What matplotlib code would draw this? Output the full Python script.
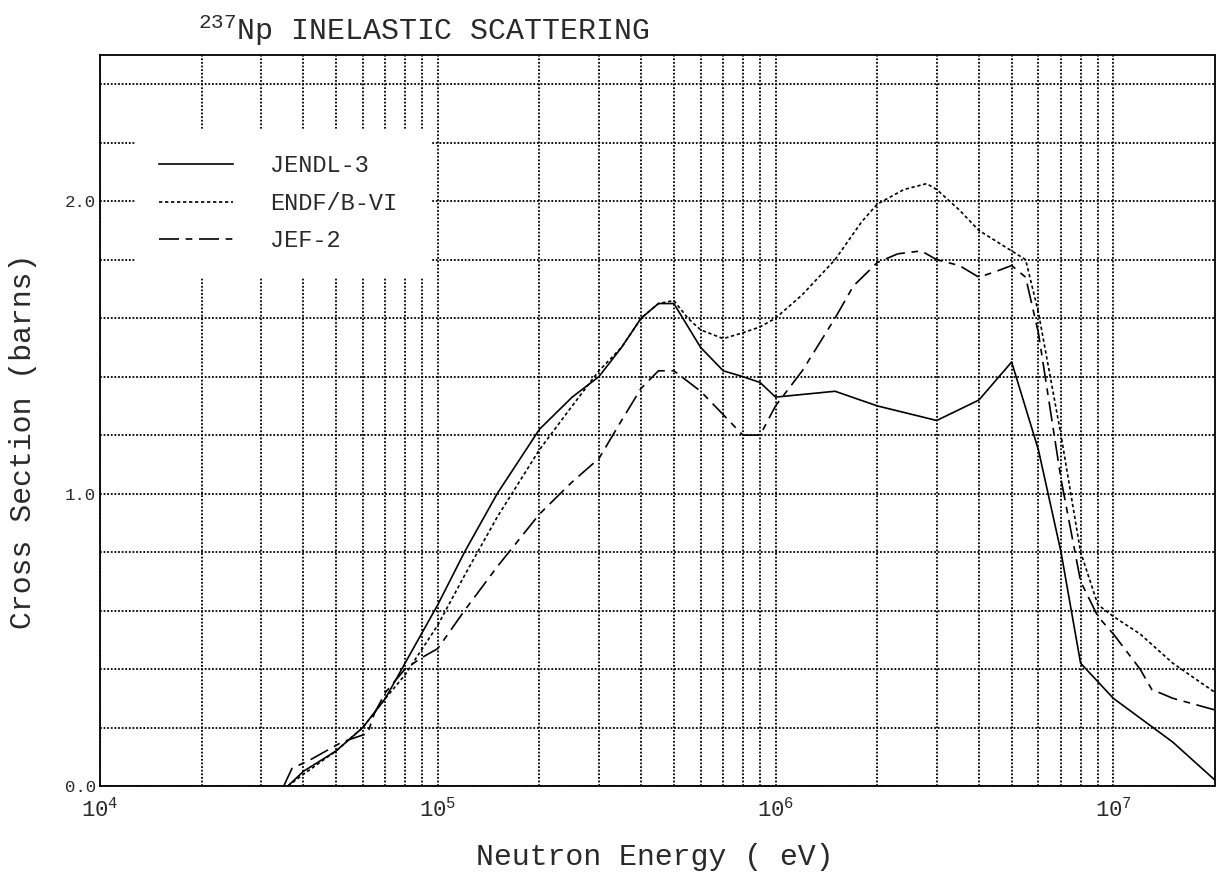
import numpy as np
import matplotlib
matplotlib.use("Agg")
import matplotlib.pyplot as plt

# ---- data ----
jendl_e = [3.6e4, 4e4, 5e4, 6e4, 7e4, 8e4, 1e5, 1.2e5, 1.5e5, 2e5, 2.5e5, 3e5, 3.5e5,
           4e5, 4.5e5, 5e5, 6e5, 7e5, 8e5, 9e5, 1e6, 1.5e6, 2e6, 3e6, 4e6, 5e6,
           6e6, 7e6, 8e6, 1e7, 1.5e7, 2e7]
jendl_v = [0.0, 0.05, 0.12, 0.2, 0.3, 0.42, 0.62, 0.8, 1.0, 1.22, 1.33, 1.4, 1.5,
           1.6, 1.65, 1.65, 1.5, 1.42, 1.4, 1.38, 1.33, 1.35, 1.3, 1.25, 1.32, 1.45,
           1.15, 0.8, 0.42, 0.3, 0.15, 0.02]

endf_e = [3.6e4, 4e4, 5e4, 6e4, 7e4, 8e4, 1e5, 1.2e5, 1.5e5, 2e5, 2.5e5, 3e5, 3.5e5,
          4e5, 4.5e5, 5e5, 5.5e5, 6e5, 7e5, 8e5, 9e5, 1e6, 1.2e6, 1.5e6, 1.8e6, 2e6,
          2.4e6, 2.8e6, 3e6, 3.5e6, 4e6, 5e6, 5.5e6, 6e6, 7e6, 8e6, 9e6, 1e7, 1.2e7,
          1.5e7, 2e7]
endf_v = [0.0, 0.04, 0.12, 0.2, 0.3, 0.38, 0.55, 0.72, 0.92, 1.15, 1.3, 1.42, 1.5,
          1.6, 1.65, 1.66, 1.6, 1.56, 1.53, 1.55, 1.57, 1.6, 1.68, 1.8, 1.93, 1.99,
          2.04, 2.06, 2.04, 1.97, 1.9, 1.83, 1.8, 1.62, 1.2, 0.8, 0.62, 0.58, 0.52,
          0.42, 0.32]

jef_e = [3.5e4, 3.7e4, 4.2e4, 5.2e4, 6.2e4, 6.5e4, 7e4, 8e4, 9e4, 1e5, 1.2e5, 1.5e5,
         2e5, 2.5e5, 3e5, 3.5e5, 4e5, 4.5e5, 5e5, 6e5, 7e5, 8e5, 9e5, 1e6, 1.2e6,
         1.5e6, 1.7e6, 2e6, 2.3e6, 2.7e6, 3e6, 3.5e6, 4e6, 4.5e6, 5e6, 5.5e6, 6e6,
         7e6, 8e6, 9e6, 1e7, 1.2e7, 1.3e7, 1.5e7, 2e7]
jef_v = [0.0, 0.06, 0.09, 0.15, 0.18, 0.25, 0.32, 0.4, 0.44, 0.47, 0.6, 0.75,
         0.93, 1.04, 1.12, 1.25, 1.36, 1.42, 1.42, 1.35, 1.27, 1.2, 1.2, 1.3, 1.42,
         1.6, 1.71, 1.79, 1.82, 1.83, 1.8, 1.78, 1.74, 1.76, 1.78, 1.74, 1.55,
         1.05, 0.7, 0.58, 0.52, 0.4, 0.33, 0.3, 0.26]

series_labels = ["JENDL-3", "ENDF/B-VI", "JEF-2"]
y_major = [0.0, 1.0, 2.0]
y_major_labels = ["0.0", "1.0", "2.0"]
x_major = [1e4, 1e5, 1e6, 1e7]
x_major_labels = [r"$\mathregular{10^{4}}$", r"$\mathregular{10^{5}}$",
                  r"$\mathregular{10^{6}}$", r"$\mathregular{10^{7}}$"]

# ---- style ----
font = "Liberation Mono"
plt.rcParams["mathtext.fontset"] = "custom"
plt.rcParams["mathtext.rm"] = font
plt.rcParams["font.family"] = [font, "DejaVu Sans"]
ink = "#2a2a2a"

W, H = 1224, 875
fig = plt.figure(figsize=(W / 100, H / 100), dpi=100)
L, R, T, B = 100, 1215, 55, 786
ax = fig.add_axes([L / W, (H - B) / H, (R - L) / W, (B - T) / H])

ax.plot(jendl_e, jendl_v, color="black", lw=1.2, ls="-", label=series_labels[0])
ax.plot(endf_e, endf_v, color="black", lw=1.2, ls=(0, (2, 1.6)), label=series_labels[1])
ax.plot(jef_e, jef_v, color="black", lw=1.2, ls=(0, (12, 4, 4, 4)), label=series_labels[2])

ax.set_xscale("log")
ax.set_xlim(1e4, 2e7)
ax.set_ylim(0, 2.5)

ax.set_xticks(x_major)
ax.set_xticklabels(x_major_labels, fontsize=16, color=ink)
ax.set_xticks([m * 10 ** d for d in range(4, 8) for m in range(2, 10) if m * 10 ** d < 2e7],
              minor=True)
ax.xaxis.set_minor_formatter(matplotlib.ticker.NullFormatter())
ax.set_yticks(y_major)
ax.set_yticklabels(y_major_labels, fontsize=12.5, color=ink)
ax.set_yticks(np.arange(0.2, 2.41, 0.2), minor=True)
ax.tick_params(which="both", length=0)
ax.tick_params(axis="x", pad=8)
ax.tick_params(axis="y", pad=3)

ax.grid(which="both", color="black", lw=1.3, ls=(0, (1, 1)))
ax.set_axisbelow(True)
for s in ax.spines.values():
    s.set_linestyle((0, (1, 1)))
    s.set_linewidth(1.3)

fig.text(655 / W, 1 - 857 / H, "Neutron Energy ( eV)", fontsize=21.5, color=ink,
         ha="center", va="center")
fig.text(23 / W, 1 - 441 / H, "Cross Section (barns)", fontsize=21.5, color=ink,
         ha="center", va="center", rotation=90)
fig.text(198 / W, 1 - 30 / H, r"$\mathregular{^{237}}$Np INELASTIC SCATTERING",
         fontsize=21.5, color=ink, va="center", ha="left")

leg = ax.legend(loc="lower left", bbox_to_anchor=(0.031, 0.696, 0.2646, 0.201),
                mode="expand", frameon=True, fancybox=False, framealpha=1,
                edgecolor="white", facecolor="white", prop={"size": 17},
                handlelength=3.1, handletextpad=1.6, labelspacing=0.62, borderpad=1.05,
                borderaxespad=0)
for t in leg.get_texts():
    t.set_color(ink)

fig.savefig("out.png", dpi=100, facecolor="white")
